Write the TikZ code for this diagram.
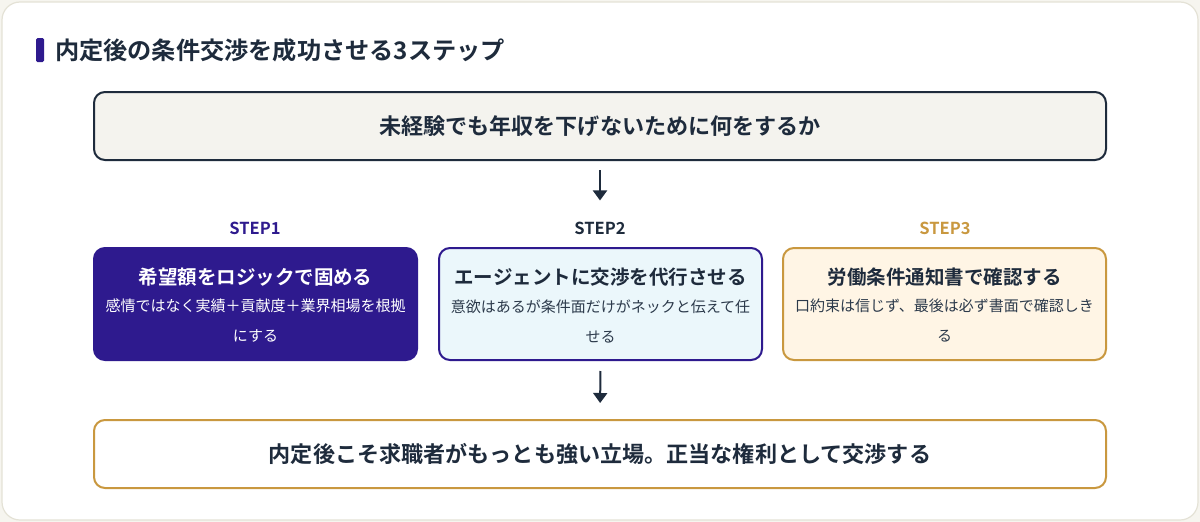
\documentclass[tikz,border=0pt]{standalone}
\usepackage{fontspec}
\setmainfont{Noto Sans CJK JP}[BoldFont={Noto Sans CJK JP Bold}]
\usepackage{tikz}
\usepackage{xcolor}
\usetikzlibrary{
  positioning, arrows.meta,
}
\definecolor{cInk}      {HTML}{1E2B3C}
\definecolor{cInkSoft}  {HTML}{2C3A4B}
\definecolor{cPurple}   {HTML}{2E1A8E}
\definecolor{cGold}     {HTML}{C9983F}
\definecolor{cPage}     {HTML}{F6F5EF}
\definecolor{cFrame}    {HTML}{E4E2D6}
\definecolor{cTopFill}  {HTML}{F4F3EE}
\definecolor{cSkyFill}  {HTML}{EBF7FB}
\definecolor{cSandFill} {HTML}{FFF5E5}

\begin{document}
\begin{tikzpicture}[x=1pt, y=-1pt,
    bigbox/.style={draw, line width=2pt, rounded corners=11pt, minimum width=1012pt, minimum height=68pt, inner sep=0pt},
    stepbox/.style={draw, line width=2pt, rounded corners=11pt, minimum width=323pt, minimum height=112pt, inner sep=0pt},
    steplabel/.style={font=\fontsize{16.5}{20}\selectfont\bfseries, inner sep=0pt},
    steptitle/.style={font=\fontsize{19.5}{24}\selectfont\bfseries, inner sep=0pt},
    stepnote/.style={font=\fontsize{15}{30}\selectfont, align=center, inner sep=0pt},
    flow/.style={draw=cInk, line width=2pt, -{Triangle[length=10pt, width=14pt]}},
  ]
  \useasboundingbox (0,0) rectangle (1200,522);
  \fill[cPage] (0,0) rectangle (1200,522);
  \draw[fill=white, draw=cFrame, line width=1.2pt, rounded corners=18pt] (2,2) rectangle (1198,520);

  % heading
  \fill[cPurple, rounded corners=1.5pt] (36,38) rectangle (44,62);
  \node[anchor=west, inner sep=0pt, text=cInk, font=\fontsize{24.2}{28}\selectfont\bfseries] (heading) at (55,50)
        {内定後の条件交渉を成功させる3ステップ};

  % question
  \node[bigbox, draw=cInk, fill=cTopFill, text=cInk, font=\fontsize{22.1}{26}\selectfont\bfseries] (question) at (600,126)
        {未経験でも年収を下げないために何をするか};

  % steps
  \node[steplabel, text=cPurple] (lblOne) at (255,228) {STEP1};
  \node[steplabel, text=cInk]    (lblTwo) at (600,228) {STEP2};
  \node[steplabel, text=cGold]   (lblThree) at (945,228) {STEP3};

  \node[stepbox, draw=cPurple, fill=cPurple] (stepOne) at (255.5,304) {};
  \node[stepbox, draw=cPurple, fill=cSkyFill] (stepTwo) at (600.5,304) {};
  \node[stepbox, draw=cGold, fill=cSandFill] (stepThree) at (944.5,304) {};

  \node[steptitle, text=white] (titleOne) at (255.5,277) {希望額をロジックで固める};
  \node[stepnote, text=white] (noteOne) at (255.5,321)
        {感情ではなく実績＋貢献度＋業界相場を根拠\\にする};
  \node[steptitle, text=cInk] (titleTwo) at (600.5,277) {エージェントに交渉を代行させる};
  \node[stepnote, text=cInkSoft] (noteTwo) at (600.5,321)
        {意欲はあるが条件面だけがネックと伝えて任\\せる};
  \node[steptitle, text=cInk] (titleThree) at (944.5,277) {労働条件通知書で確認する};
  \node[stepnote, text=cInkSoft] (noteThree) at (944.5,321)
        {口約束は信じず、最後は必ず書面で確認しき\\る};

  % conclusion
  \node[bigbox, draw=cGold, fill=white, text=cInk, font=\fontsize{22.1}{26}\selectfont\bfseries] (answer) at (600,454)
        {内定後こそ求職者がもっとも強い立場。正当な権利として交渉する};

  \draw[flow, shorten <=9pt, shorten >=21pt] (question.south) -- (lblTwo.north);
  \draw[flow, shorten <=10pt, shorten >=16pt] (stepTwo.south) -- (answer.north);
\end{tikzpicture}
\end{document}
